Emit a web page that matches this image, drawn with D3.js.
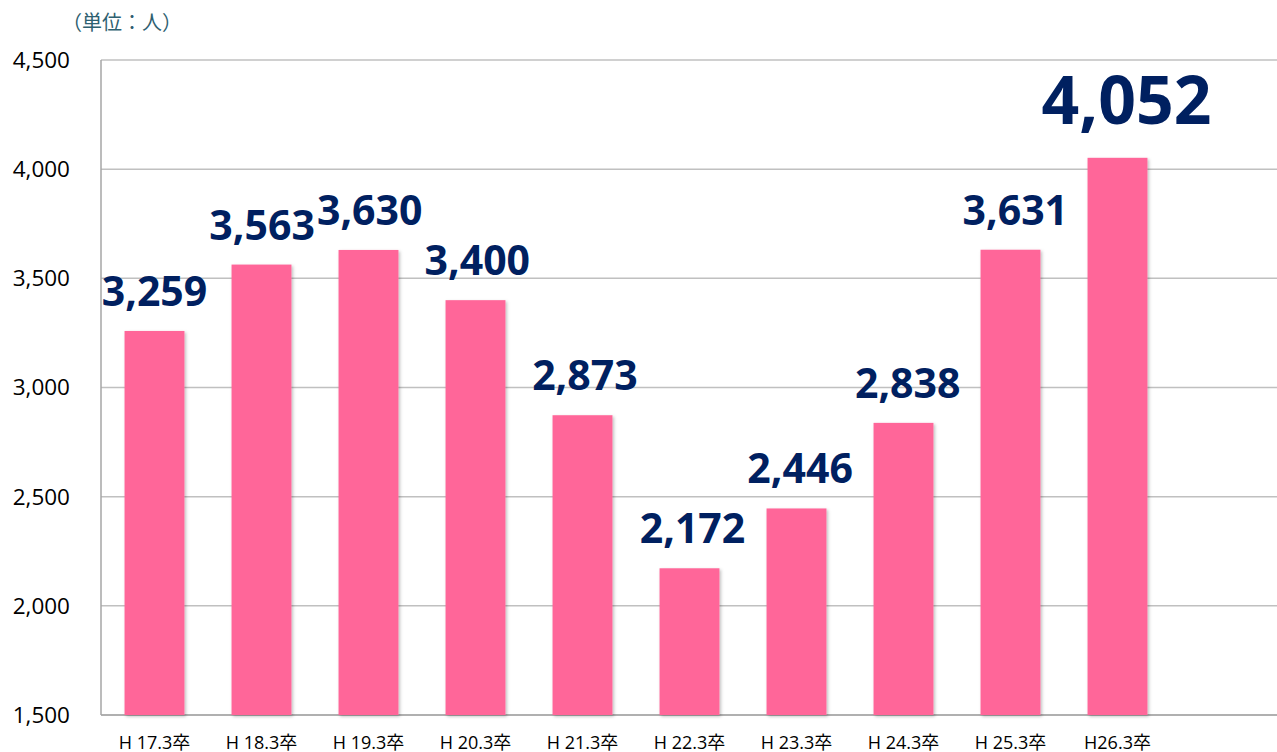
<!DOCTYPE html>
<html>
<head>
<meta charset="utf-8">
<script src="https://cdn.jsdelivr.net/npm/d3@7"></script>
<style>
  body { margin: 0; background: #fff; }
  svg { display: block; }
</style>
</head>
<body>
<svg id="chart" width="1277" height="752"></svg>
<script>
var width = 1277;
var height = 752;

var categories = ['H 17.3卒', 'H 18.3卒', 'H 19.3卒', 'H 20.3卒', 'H 21.3卒',
                  'H 22.3卒', 'H 23.3卒', 'H 24.3卒', 'H 25.3卒', 'H26.3卒'];
var values = [3259, 3563, 3630, 3400, 2873, 2172, 2446, 2838, 3631, 4052];
var yTicks = [1500, 2000, 2500, 3000, 3500, 4000, 4500];

var plotLeft = 101, plotTop = 60, plotBottom = 715, plotRight = 1277;
var step = 107;

var svg = d3.select('#chart');

var defs = svg.append('defs');
var f = defs.append('filter').attr('id', 'shadow')
  .attr('x', '-20%').attr('y', '-5%').attr('width', '140%').attr('height', '110%');
f.append('feDropShadow').attr('dx', 1.5).attr('dy', 1.5)
  .attr('stdDeviation', 1.5).attr('flood-color', '#000').attr('flood-opacity', 0.25);

var x = d3.scaleBand()
  .domain(categories)
  .range([plotLeft, plotLeft + step * categories.length])
  .paddingInner(0.44)
  .paddingOuter(0.22);

var y = d3.scaleLinear().domain([1500, 4500]).range([plotBottom, plotTop]);

// grid lines
svg.append('g')
  .selectAll('line')
  .data(yTicks)
  .join('line')
    .attr('x1', plotLeft).attr('x2', plotRight)
    .attr('y1', d => y(d)).attr('y2', d => y(d))
    .attr('stroke', '#c0c0c0')
    .attr('stroke-width', 1.5);

// axis lines
svg.append('line')
  .attr('x1', plotLeft).attr('x2', plotLeft)
  .attr('y1', plotTop).attr('y2', plotBottom)
  .attr('stroke', '#a6a6a6').attr('stroke-width', 1.5);

svg.append('line')
  .attr('x1', plotLeft).attr('x2', plotRight)
  .attr('y1', plotBottom).attr('y2', plotBottom)
  .attr('stroke', '#a6a6a6').attr('stroke-width', 1.5);

// y tick labels
var fmt = d3.format(',');
svg.append('g')
  .selectAll('text')
  .data(yTicks)
  .join('text')
    .attr('x', 70)
    .attr('y', d => y(d))
    .attr('dy', '0.35em')
    .attr('text-anchor', 'end')
    .attr('font-family', 'Open Sans, sans-serif')
    .attr('font-size', 22.5)
    .attr('fill', '#000')
    .text(d => fmt(d));

// bars
svg.append('g')
  .selectAll('rect')
  .data(values)
  .join('rect')
    .attr('x', (d, i) => x(categories[i]))
    .attr('y', d => y(d))
    .attr('width', x.bandwidth())
    .attr('height', d => plotBottom - y(d))
    .attr('fill', '#ff6699')
    .attr('filter', 'url(#shadow)');

// value labels (excel nudges them slightly right of the bar centre)
svg.append('g')
  .selectAll('text')
  .data(values)
  .join('text')
    .attr('x', (d, i) => x(categories[i]) + x.bandwidth() / 2 + (i == values.length - 1 ? 9 : i * 0.6))
    .attr('y', (d, i) => y(d) - (i == values.length - 1 ? 34 : 25))
    .attr('text-anchor', 'middle')
    .attr('font-family', 'Open Sans, sans-serif')
    .attr('font-weight', 'bold')
    .attr('font-size', (d, i) => i == values.length - 1 ? 66 : 41)
    .attr('fill', '#002060')
    .text(d => fmt(d));

// category labels
svg.append('g')
  .selectAll('text')
  .data(categories)
  .join('text')
    .attr('x', d => x(d) + x.bandwidth() / 2)
    .attr('y', 749)
    .attr('text-anchor', 'middle')
    .attr('font-family', 'Open Sans, Noto Sans CJK JP, sans-serif')
    .attr('font-size', 18)
    .attr('fill', '#000')
    .text(d => d);

// unit
svg.append('text')
  .attr('x', 62)
  .attr('y', 30)
  .attr('font-family', 'Noto Sans CJK JP, sans-serif')
  .attr('font-size', 20)
  .attr('fill', '#2e6070')
  .text('（単位：人）');
</script>
</body>
</html>
